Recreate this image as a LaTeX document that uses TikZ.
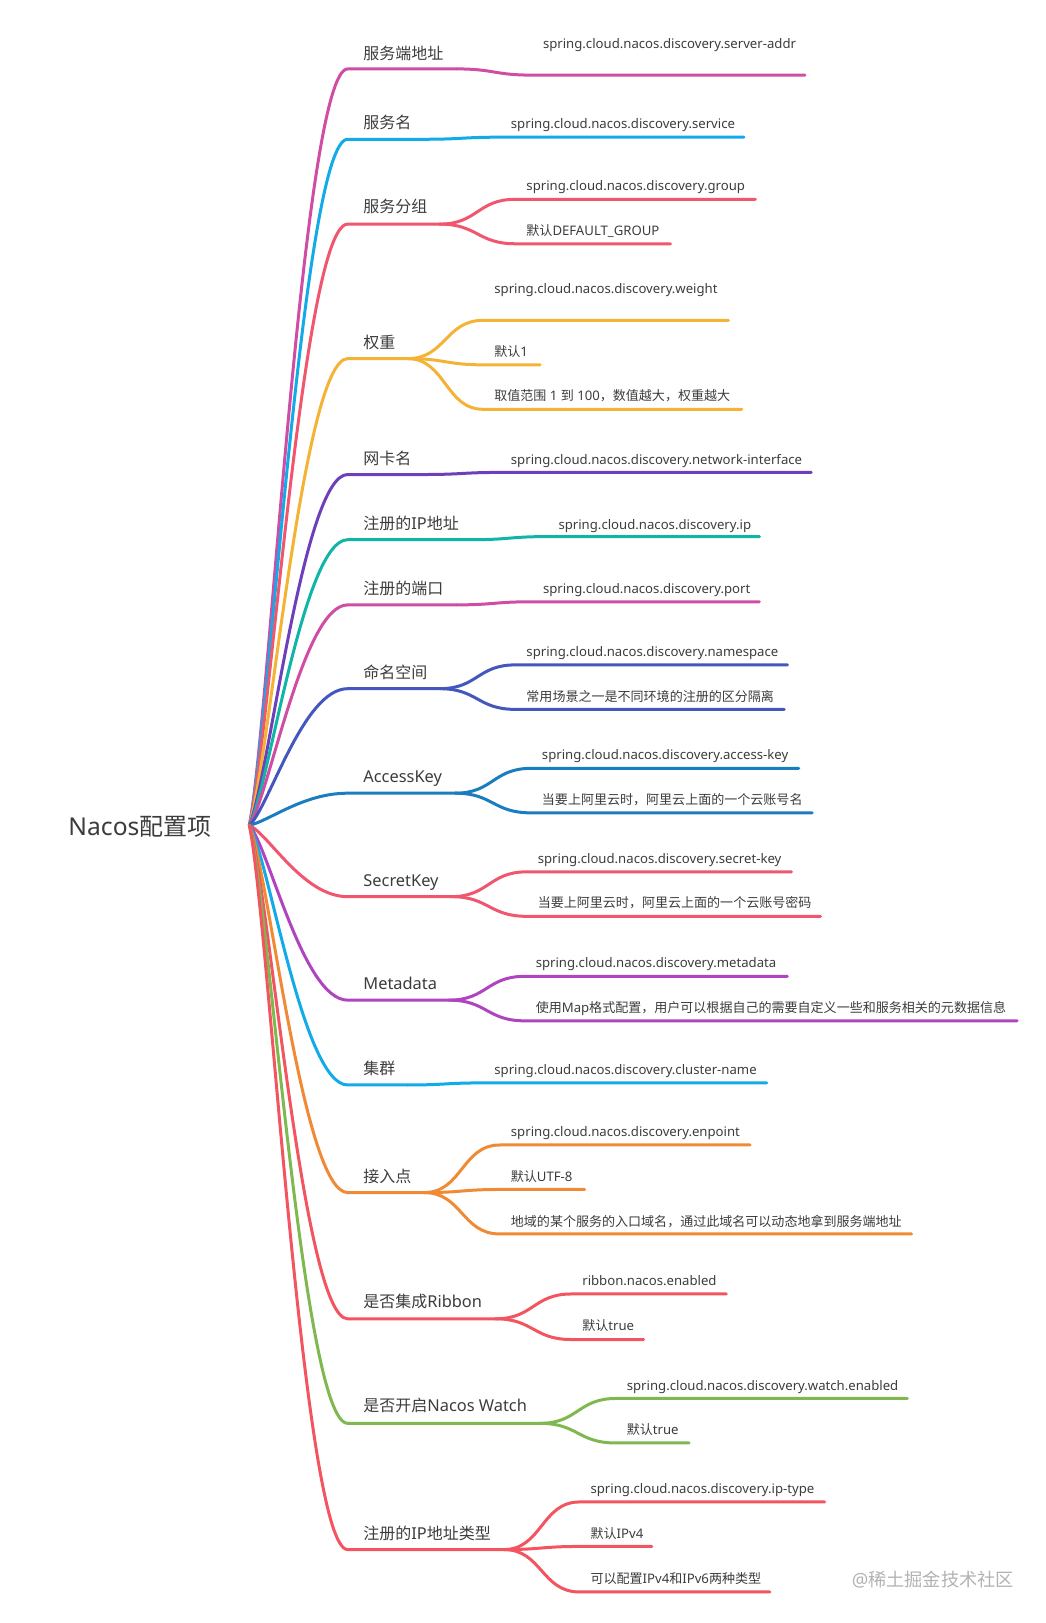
\documentclass[tikz,border=0pt]{standalone}
\usepackage{fontspec}
\setmainfont{Noto Sans}
\newfontfamily\cjkf[Scale=0.99]{Noto Sans CJK SC}
\newfontfamily\cjkhub[Scale=0.975]{Noto Sans CJK SC}
\newcommand{\zh}[1]{{\cjkf #1}}
\definecolor{cpink}{HTML}{D04DA4}
\definecolor{csky}{HTML}{12ABE8}
\definecolor{cred}{HTML}{F0566E}
\definecolor{cyel}{HTML}{F5B335}
\definecolor{cpur}{HTML}{6D3FBB}
\definecolor{cteal}{HTML}{10B5A8}
\definecolor{cind}{HTML}{4357BC}
\definecolor{cblue}{HTML}{1A7DBF}
\definecolor{cmag}{HTML}{B044C0}
\definecolor{cora}{HTML}{F08A35}
\definecolor{ccor}{HTML}{F2555F}
\definecolor{cgrn}{HTML}{7FB84E}
\definecolor{ctxt}{HTML}{3C3C3C}
\usetikzlibrary{calc}
\tikzset{
  link/.style={line width=3pt,line cap=round},
  rootlabel/.style={anchor=base west,inner sep=0pt,text=ctxt,font=\fontsize{24.6}{28}\selectfont\let\cjkf\cjkhub},
  hublabel/.style={anchor=base west,inner sep=0pt,text=ctxt,font=\fontsize{16.4}{20}\selectfont\let\cjkf\cjkhub},
  leaflabel/.style={anchor=base west,inner sep=0pt,text=ctxt,font=\fontsize{13.16}{16}\selectfont},
  marklabel/.style={anchor=base west,inner sep=0pt,text=black!30,font=\fontsize{18.4}{20}\selectfont},
}
% id, colour, label, text centre y, line y, junction x
\newcommand{\hub}[6]{%
  \pgfmathsetmacro{\by}{#4+6.5}
  \pgfmathsetmacro{\ly}{#5+0.6}
  \pgfmathsetmacro{\cy}{797.6+0.13*(#5-797)}
  \node[hublabel] (#1) at (351,\by) {#3};
  \coordinate (#1a) at (336,\ly);
  \coordinate (#1j) at (#6,\ly);
  \draw[link,#2] (hubpt) .. controls (260,\cy) and (293,\ly) .. (#1a) -- (#1j);
}
% hub id, leaf no, colour, text, text x, text centre y, line y, end x
\newcommand{\leaf}[8]{%
  \pgfmathsetmacro{\by}{#6+5.5}
  \pgfmathsetmacro{\sx}{#5-10}
  \pgfmathsetmacro{\tx}{#5+0.6}
  \pgfmathsetmacro{\ly}{#7+0.6}
  \node[leaflabel] (#1l#2) at (\tx,\by) {#4};
  \coordinate (#1s#2) at (\sx,\ly);
  \coordinate (#1e#2) at (#8,\ly);
  \coordinate (#1m#2) at ($(#1j)!.5!(#1s#2)$);
  \coordinate (#1p#2) at (#1m#2 |- #1j);
  \coordinate (#1q#2) at (#1m#2 |- #1s#2);
  \draw[link,#3] (#1j) .. controls (#1p#2) and (#1q#2) .. (#1s#2) -- (#1e#2);
}
\begin{document}
\begin{tikzpicture}[x=1.0347pt,y=-1.0347pt]
\useasboundingbox (0,0) rectangle (1010,1568.6);
\node[rootlabel] (root) at (66,807.5) {Nacos\zh{配置项}};
\coordinate (hubpt) at (241,797.6);

\hub{a}{cpink}{\zh{服务端地址}}{51}{66}{441}
\leaf{a}{1}{cpink}{spring.cloud.nacos.discovery.server-addr}{524}{41}{72}{778}

\hub{b}{csky}{\zh{服务名}}{118}{134}{410}
\leaf{b}{1}{csky}{spring.cloud.nacos.discovery.service}{493}{119}{132}{719}

\hub{c}{cred}{\zh{服务分组}}{199}{216}{425}
\leaf{c}{1}{cred}{spring.cloud.nacos.discovery.group}{508}{179}{192}{730}
\leaf{c}{2}{cred}{\zh{默认}DEFAULT\_GROUP}{508}{222}{235}{648}

\hub{d}{cyel}{\zh{权重}}{330}{346}{394}
\leaf{d}{1}{cyel}{spring.cloud.nacos.discovery.weight}{477}{278}{309}{704}
\leaf{d}{2}{cyel}{\zh{默认}1}{477}{339}{352}{522}
\leaf{d}{3}{cyel}{\zh{取值范围} 1 \zh{到} 100\zh{，数值越大，权重越大}}{477}{382}{395}{717}

\hub{e}{cpur}{\zh{网卡名}}{442}{458}{410}
\leaf{e}{1}{cpur}{spring.cloud.nacos.discovery.network-interface}{493}{443}{456}{784}

\hub{f}{cteal}{\zh{注册的}IP\zh{地址}}{505}{521}{456}
\leaf{f}{1}{cteal}{spring.cloud.nacos.discovery.ip}{539}{506}{518}{734}

\hub{g}{cpink}{\zh{注册的端口}}{568}{584}{441}
\leaf{g}{1}{cpink}{spring.cloud.nacos.discovery.port}{524}{568}{581}{734}

\hub{h}{cind}{\zh{命名空间}}{649}{665}{425}
\leaf{h}{1}{cind}{spring.cloud.nacos.discovery.namespace}{508}{629}{642}{761}
\leaf{h}{2}{cind}{\zh{常用场景之一是不同环境的注册的区分隔离}}{508}{672}{685}{758}

\hub{i}{cblue}{AccessKey}{750}{766}{440}
\leaf{i}{1}{cblue}{spring.cloud.nacos.discovery.access-key}{523}{729}{742}{772}
\leaf{i}{2}{cblue}{\zh{当要上阿里云时，阿里云上面的一个云账号名}}{523}{772}{785}{785}

\hub{j}{cred}{SecretKey}{850}{866}{436}
\leaf{j}{1}{cred}{spring.cloud.nacos.discovery.secret-key}{519}{829}{842}{765}
\leaf{j}{2}{cred}{\zh{当要上阿里云时，阿里云上面的一个云账号密码}}{519}{872}{885}{793}

\hub{k}{cmag}{Metadata}{950}{966}{434}
\leaf{k}{1}{cmag}{spring.cloud.nacos.discovery.metadata}{517}{930}{943}{761}
\leaf{k}{2}{cmag}{\zh{使用}Map\zh{格式配置，用户可以根据自己的需要自定义一些和服务相关的元数据信息}}{517}{973}{986}{983}

\hub{l}{csky}{\zh{集群}}{1032}{1048}{394}
\leaf{l}{1}{csky}{spring.cloud.nacos.discovery.cluster-name}{477}{1033}{1046}{741}

\hub{m}{cora}{\zh{接入点}}{1136}{1152}{410}
\leaf{m}{1}{cora}{spring.cloud.nacos.discovery.enpoint}{493}{1093}{1106}{725}
\leaf{m}{2}{cora}{\zh{默认}UTF-8}{493}{1136}{1149}{565}
\leaf{m}{3}{cora}{\zh{地域的某个服务的入口域名，通过此域名可以动态地拿到服务端地址}}{493}{1180}{1192}{881}

\hub{n}{ccor}{\zh{是否集成}Ribbon}{1257}{1274}{479}
\leaf{n}{1}{ccor}{ribbon.nacos.enabled}{562}{1237}{1250}{702}
\leaf{n}{2}{ccor}{\zh{默认}true}{562}{1280}{1294}{622}

\hub{o}{cgrn}{\zh{是否开启}Nacos Watch}{1358}{1375}{522}
\leaf{o}{1}{cgrn}{spring.cloud.nacos.discovery.watch.enabled}{605}{1338}{1351}{877}
\leaf{o}{2}{cgrn}{\zh{默认}true}{605}{1381}{1394}{666}

\hub{p}{ccor}{\zh{注册的}IP\zh{地址类型}}{1481}{1497}{487}
\leaf{p}{1}{ccor}{spring.cloud.nacos.discovery.ip-type}{570}{1438}{1451}{797}
\leaf{p}{2}{ccor}{\zh{默认}IPv4}{570}{1481}{1494}{630}
\leaf{p}{3}{ccor}{\zh{可以配置}IPv4\zh{和}IPv6\zh{两种类型}}{570}{1525}{1538}{744}

\node[marklabel] (mark) at (823,1533.5) {@\zh{稀土掘金技术社区}};
\end{tikzpicture}
\end{document}
